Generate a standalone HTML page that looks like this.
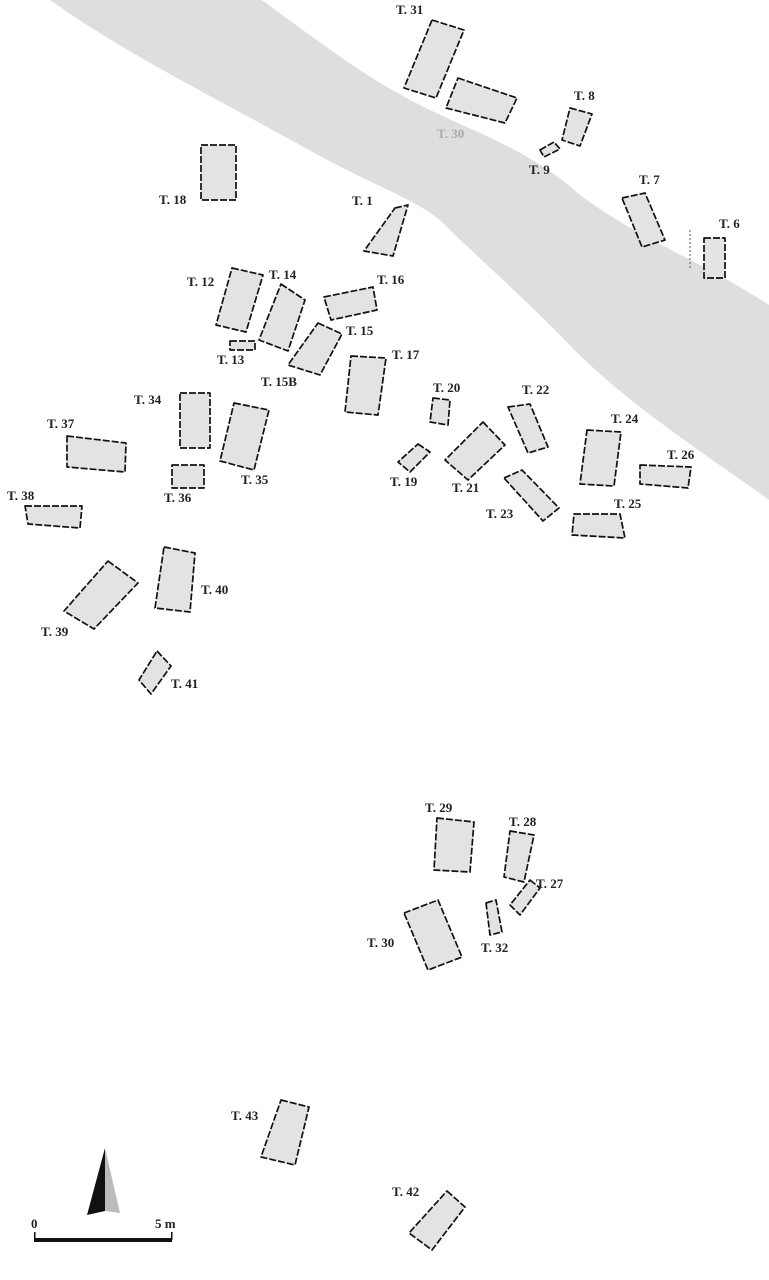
<!DOCTYPE html>
<html><head><meta charset="utf-8"><style>
html,body{margin:0;padding:0;background:#fff;}
svg{display:block;}
text{font-family:"Liberation Serif",serif;font-weight:bold;font-size:13px;fill:#222;}
polygon.t{fill:#e3e3e3;stroke:#111;stroke-width:1.7;stroke-dasharray:7 2;stroke-linejoin:round;}
</style></head><body>
<svg width="769" height="1280" viewBox="0 0 769 1280" xmlns="http://www.w3.org/2000/svg">
<path d="M50,0 L262,0 C330,50 370,80 420,105 C480,135 530,150 580,195 C640,240 700,260 769,305 L769,500 C700,450 620,400 560,335 C510,285 470,250 445,225 C420,200 380,190 300,145 C200,90 120,50 50,0 Z" fill="#dedede"/>
<polygon class="t" points="432,20 464,30 436,98 404,88"/><text x="396" y="14">T. 31</text>
<polygon class="t" points="458,78 517,98 505,123 446,108"/><text x="437" y="138" style="fill:#aaa">T. 30</text>
<polygon class="t" points="570,108 592,114 580,146 562,140"/><text x="574" y="100">T. 8</text>
<polygon class="t" points="540,150 554,142 560,149 544,157"/><text x="529" y="174">T. 9</text>
<polygon class="t" points="201,145 236,145 236,200 201,200"/><text x="159" y="204">T. 18</text>
<polygon class="t" points="395,208 408,205 393,256 364,251"/><text x="352" y="205">T. 1</text>
<polygon class="t" points="622,198 645,193 665,240 642,247"/><text x="639" y="184">T. 7</text>
<polygon class="t" points="704,238 725,238 725,278 704,278"/><line x1="690" y1="230" x2="690" y2="270" stroke="#555" stroke-dasharray="2 2"/><text x="719" y="228">T. 6</text>
<polygon class="t" points="232,268 263,275 246,332 216,325"/><text x="187" y="286">T. 12</text>
<polygon class="t" points="281,284 305,300 288,351 259,340"/><text x="269" y="279">T. 14</text>
<polygon class="t" points="324,297 373,287 377,310 331,320"/><text x="377" y="284">T. 16</text>
<polygon class="t" points="318,323 342,334 320,375 288,365"/><text x="346" y="335">T. 15</text><text x="261" y="386">T. 15B</text>
<polygon class="t" points="230,341 255,341 255,350 230,350"/><text x="217" y="364">T. 13</text>
<polygon class="t" points="351,356 386,358 378,415 345,412"/><text x="392" y="359">T. 17</text>
<polygon class="t" points="180,393 210,393 210,448 180,448"/><text x="134" y="404">T. 34</text>
<polygon class="t" points="234,403 269,410 254,470 220,461"/><text x="241" y="484">T. 35</text>
<polygon class="t" points="172,465 204,465 204,488 172,488"/><text x="164" y="502">T. 36</text>
<polygon class="t" points="67,436 126,443 125,472 67,467"/><text x="47" y="428">T. 37</text>
<polygon class="t" points="25,506 82,506 80,528 28,524"/><text x="7" y="500">T. 38</text>
<polygon class="t" points="108,561 138,583 94,629 64,611"/><text x="41" y="636">T. 39</text>
<polygon class="t" points="164,547 195,553 190,612 155,608"/><text x="201" y="594">T. 40</text>
<polygon class="t" points="157,651 171,666 151,694 139,680"/><text x="171" y="688">T. 41</text>
<polygon class="t" points="433,398 450,400 448,425 430,422"/><text x="433" y="392">T. 20</text>
<polygon class="t" points="508,407 530,404 548,447 528,453"/><text x="522" y="394">T. 22</text>
<polygon class="t" points="418,444 430,452 410,472 398,462"/><text x="390" y="486">T. 19</text>
<polygon class="t" points="483,422 505,445 468,480 445,460"/><text x="452" y="492">T. 21</text>
<polygon class="t" points="587,430 621,432 614,486 580,484"/><text x="611" y="423">T. 24</text>
<polygon class="t" points="640,465 691,467 688,488 640,484"/><text x="667" y="459">T. 26</text>
<polygon class="t" points="504,478 522,470 559,508 543,521"/><text x="486" y="518">T. 23</text>
<polygon class="t" points="574,514 620,514 625,538 572,535"/><text x="614" y="508">T. 25</text>
<polygon class="t" points="437,818 474,822 470,872 434,870"/><text x="425" y="812">T. 29</text>
<polygon class="t" points="510,831 534,835 524,882 504,877"/><text x="509" y="826">T. 28</text>
<polygon class="t" points="530,880 540,888 520,915 510,905"/><text x="536" y="888">T. 27</text>
<polygon class="t" points="486,903 496,900 502,932 490,935"/><text x="481" y="952">T. 32</text>
<polygon class="t" points="404,913 438,900 462,957 428,970"/><text x="367" y="947">T. 30</text>
<polygon class="t" points="281,1100 309,1107 295,1165 261,1157"/><text x="231" y="1120">T. 43</text>
<polygon class="t" points="447,1191 465,1207 432,1250 409,1233"/><text x="392" y="1196">T. 42</text>
<polygon points="105,1148 87,1215 105,1211" fill="#111"/>
<polygon points="105,1148 120,1213 105,1211" fill="#bbb"/>
<text x="31" y="1228">0</text><text x="155" y="1228">5 m</text>
<rect x="34" y="1238" width="138" height="4" fill="#111"/>
<rect x="34" y="1232" width="1.5" height="8" fill="#111"/>
<rect x="171" y="1232" width="1.5" height="8" fill="#111"/>
</svg>
</body></html>
